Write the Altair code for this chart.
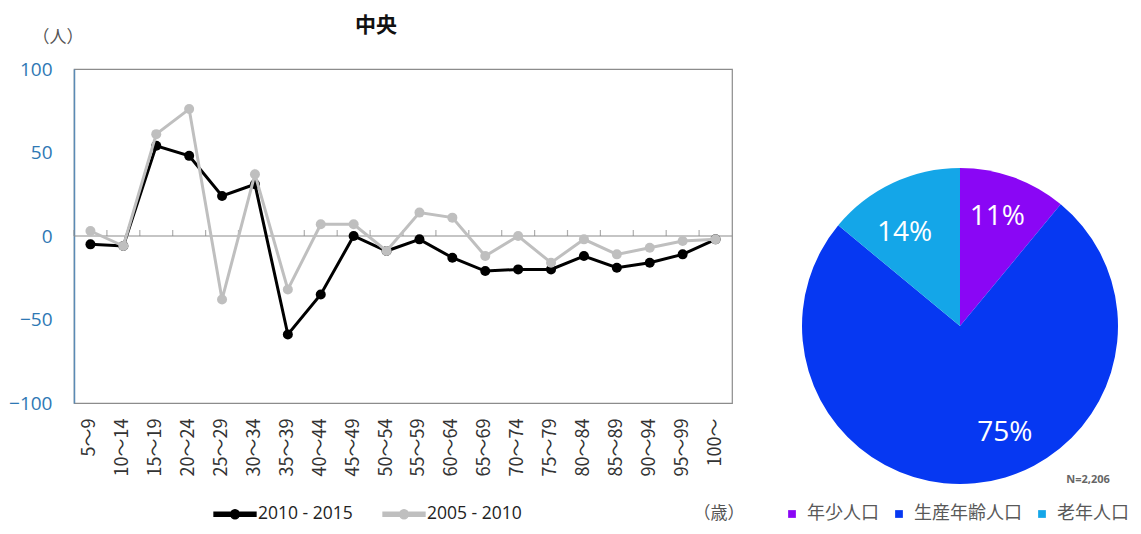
import altair as alt
import pandas as pd

ages = ["5～9", "10～14", "15～19", "20～24", "25～29", "30～34", "35～39", "40～44",
        "45～49", "50～54", "55～59", "60～64", "65～69", "70～74", "75～79", "80～84",
        "85～89", "90～94", "95～99", "100～"]
s_2010_2015 = [-5, -6, 54, 48, 24, 31, -59, -35, 0, -9, -2, -13, -21, -20, -20, -12, -19, -16, -11, -2]
s_2005_2010 = [3, -6, 61, 76, -38, 37, -32, 7, 7, -9, 14, 11, -12, 0, -16, -2, -11, -7, -3, -2]
series_names = ["2010 - 2015", "2005 - 2010"]
series_colors = ["#000000", "#bfbfbf"]

pie_cats = ["年少人口", "生産年齢人口", "老年人口"]
pie_vals = [11, 75, 14]
pie_labels = ["11%", "75%", "14%"]
pie_colors = ["#8a06f5", "#0638f2", "#14a6e8"]

FONT = "Noto Sans CJK JP"

rows = []
for name, vals in zip(series_names, [s_2010_2015, s_2005_2010]):
    for a, v in zip(ages, vals):
        rows.append({"age": a, "value": v, "series": name})
df = pd.DataFrame(rows)

xenc = alt.X("age:N", sort=ages, bandPosition=0.5,
             scale=alt.Scale(type="band", domain=ages, paddingInner=0, paddingOuter=0),
             axis=alt.Axis(title=None, labelAngle=270, labelFontSize=18, labelColor="#333333",
                           labelFont=FONT, ticks=False, domain=False, labelPadding=15,
                           grid=False))
yenc = alt.Y("value:Q", scale=alt.Scale(domain=[-100, 100], nice=False),
             axis=alt.Axis(title=None, values=[-100, -50, 0, 50, 100], grid=False,
                           labelColor="#2e78b4", labelFontSize=19, labelFont="Open Sans",
                           tickSize=0, labelPadding=22, domainColor="#5a8ab5",
                           domainWidth=1.5))

sym = "M-1,-0.09H1V0.09H-1Z M0.21,0A0.21,0.21,0,1,1,-0.21,0A0.21,0.21,0,1,1,0.21,0Z"
color_enc = alt.Color("series:N", scale=alt.Scale(domain=series_names, range=series_colors),
                      legend=alt.Legend(title=None, orient="none", direction="horizontal",
                                        legendX=139, legendY=423, symbolType=sym,
                                        symbolSize=1750, labelFontSize=17.5,
                                        labelFont="Open Sans", labelColor="#222222",
                                        columnPadding=27, labelOffset=1))

base = alt.Chart(df)
zero = alt.Chart(pd.DataFrame({"v": [0]})).mark_rule(color="#8c8c8c", strokeWidth=1.2).encode(
    y=alt.Y("v:Q", scale=alt.Scale(domain=[-100, 100], nice=False)))
ticks = alt.Chart(pd.DataFrame({"age": ages, "v": [0] * len(ages)})).mark_tick(
    orient="vertical", color="#8c8c8c", size=6, thickness=1.2, yOffset=-3).encode(
    x=alt.X("age:N", sort=ages, bandPosition=0),
    y=alt.Y("v:Q"))

layers = []
for name in series_names:
    b = base.transform_filter(alt.datum.series == name)
    layers.append(b.mark_line(strokeWidth=3).encode(x=xenc, y=yenc, color=color_enc))
    layers.append(b.mark_point(filled=True, size=100, opacity=1).encode(x=xenc, y=yenc, color=color_enc))

line_group = alt.layer(zero, ticks, *layers)

pdf = pd.DataFrame({"cat": pie_cats, "val": pie_vals, "lab": pie_labels, "ord": [0, 1, 2]})
pbase = alt.Chart(pdf)
theta = alt.Theta("val:Q", stack=True)
arc = pbase.mark_arc(outerRadius=158).encode(
    theta=theta,
    order=alt.Order("ord:Q"),
    color=alt.Color("cat:N", scale=alt.Scale(domain=pie_cats, range=pie_colors),
                    legend=alt.Legend(title=None, orient="none", direction="horizontal",
                                      legendX=709, legendY=436, symbolType="square",
                                      symbolSize=60, labelFontSize=18, labelFont=FONT,
                                      labelColor="#595959", columnPadding=11,
                                      labelOffset=6, labelLimit=200)),
    x=alt.value(886), y=alt.value(257))

txt_layers = []
offsets = {"11%": (-2, 0), "75%": (34, -8), "14%": (-6, 12)}
for lab in pie_labels:
    dx, dy = offsets[lab]
    txt_layers.append(pbase.mark_text(radius=116, fontSize=28, color="white", font="Open Sans",
                                      dx=dx, dy=dy).encode(
        theta=theta, order=alt.Order("ord:Q"),
        text="lab:N",
        opacity=alt.condition(alt.datum.lab == lab, alt.value(1), alt.value(0)),
        x=alt.value(886), y=alt.value(257)))
pie_group = alt.layer(arc, *txt_layers)

ann = pd.DataFrame({"t": ["x"]})
title = alt.Chart(ann).mark_text(text="中央", fontSize=21, fontWeight="bold", font=FONT,
                                 color="#111111").encode(x=alt.value(302), y=alt.value(-43))
unit_y = alt.Chart(ann).mark_text(text="（人）", fontSize=17, font=FONT, color="#555555").encode(
    x=alt.value(-16), y=alt.value(-31))
unit_x = alt.Chart(ann).mark_text(text="（歳）", fontSize=17, font=FONT, color="#555555").encode(
    x=alt.value(645), y=alt.value(445))
nlab = alt.Chart(ann).mark_text(text="N=2,206", fontSize=11, font="Open Sans", color="#666666",
                                fontWeight="bold").encode(x=alt.value(1014), y=alt.value(411))

chart = alt.layer(line_group, pie_group, title, unit_y, unit_x, nlab).resolve_scale(
    color="independent").properties(
    width=658, height=334,
    autosize=alt.AutoSizeParams(type="none"),
    padding={"left": 66, "top": 61, "right": 401, "bottom": 123},
).configure_view(stroke="#8c8c8c", strokeWidth=1.2)

chart.save("out.html", embed_options={"renderer": "svg", "actions": False})
